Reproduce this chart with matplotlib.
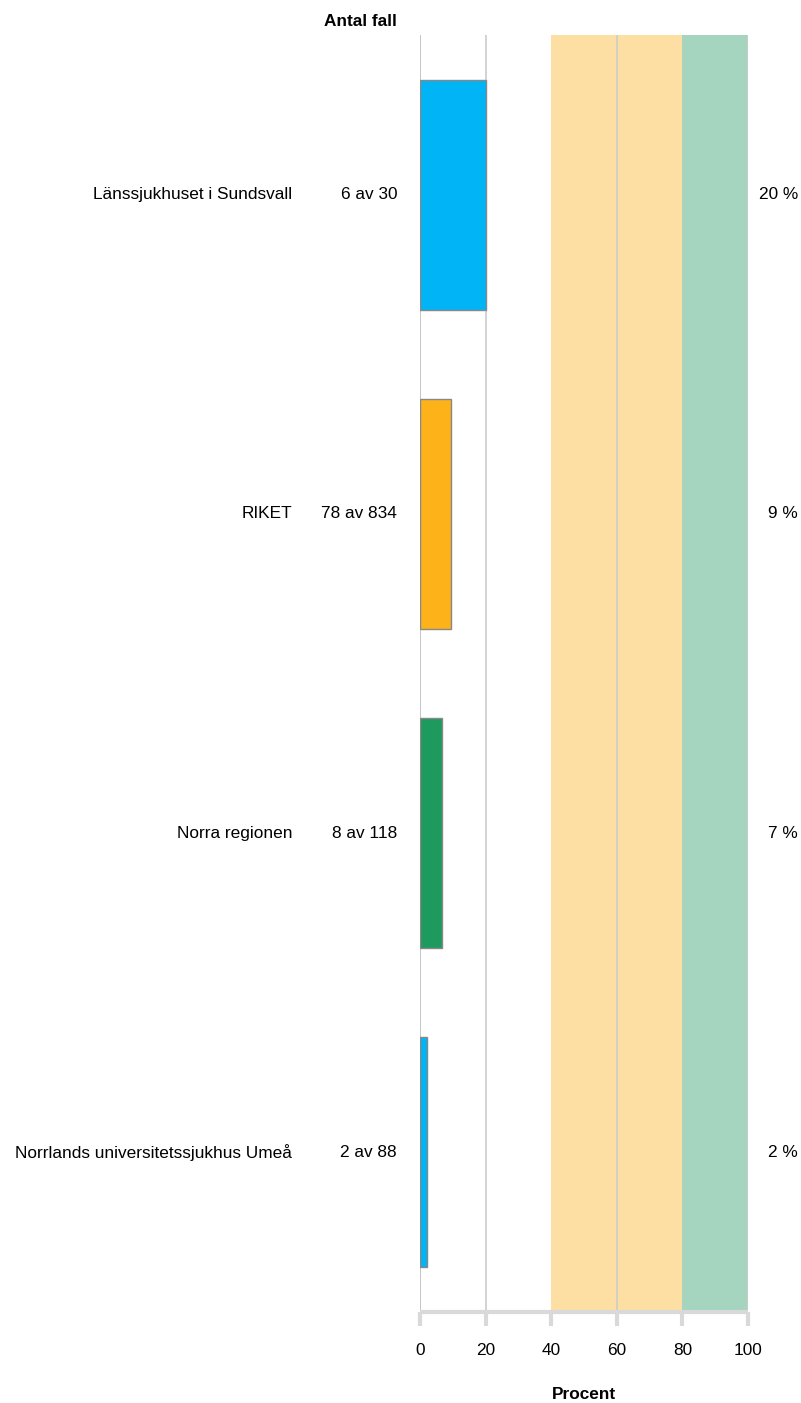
import numpy as np
from matplotlib import pyplot as plt

plt.rcParams['font.family'] = ['Liberation Sans', 'DejaVu Sans']

# data
sjukhus = ['Länssjukhuset i Sundsvall', 'RIKET', 'Norra regionen',
           'Norrlands universitetssjukhus Umeå']
antal = [6, 78, 8, 2]
totalt = [30, 834, 118, 88]
procent = [100.0 * a / t for a, t in zip(antal, totalt)]
farger = ['#00B4F5', '#FDB21A', '#1E9A5F', '#00B4F5']
xticks = [0, 20, 40, 60, 80, 100]

fig = plt.figure(figsize=(8.01, 14.03), dpi=100)
ax = fig.add_axes([420 / 801, (1403 - 1312) / 1403, 328 / 801, 1277 / 1403])

y = np.arange(len(sjukhus))
ax.set_xlim(0, 100)
ax.set_ylim(len(sjukhus) - 0.5, -0.5)

# bakgrundsband
ax.axvspan(40, 80, color='#FDDFA3', zorder=0, lw=0)
ax.axvspan(80, 100, color='#A5D4BF', zorder=0, lw=0)
for gx in [20, 60, 100]:
    ax.axvline(gx, color='#cccccc', lw=1.2, zorder=1)
ax.axvline(0, color='#bbbbbb', lw=1.2, zorder=1)

ax.barh(y, procent, height=0.72, color=farger, edgecolor='#888888',
        linewidth=1, zorder=3)

fs = 12.4
for i in range(len(sjukhus)):
    ax.text(-0.39, y[i], sjukhus[i], transform=ax.get_yaxis_transform(),
            ha='right', va='center', fontsize=fs)
    ax.text(-0.07, y[i], f'{antal[i]} av {totalt[i]}',
            transform=ax.get_yaxis_transform(), ha='right', va='center', fontsize=fs)
    ax.text(1.152, y[i], f'{round(procent[i]):d} %',
            transform=ax.get_yaxis_transform(), ha='right', va='center', fontsize=fs)

ax.text(-0.07, 1.0102, 'Antal fall', transform=ax.transAxes, ha='right',
        va='center', fontsize=fs, fontweight='bold')

for s in ['top', 'right', 'left']:
    ax.spines[s].set_visible(False)
ax.spines['bottom'].set_color('#d9d9d9')
ax.spines['bottom'].set_linewidth(3)
ax.spines['bottom'].set_capstyle('butt')
ax.set_yticks([])
ax.set_xticks(xticks)
ax.tick_params(axis='x', length=10, width=3, color='#d9d9d9', labelsize=fs, pad=12)
ax.set_xlabel('Procent', fontsize=fs, fontweight='bold', labelpad=21)

plt.savefig('out.png', dpi=100)
